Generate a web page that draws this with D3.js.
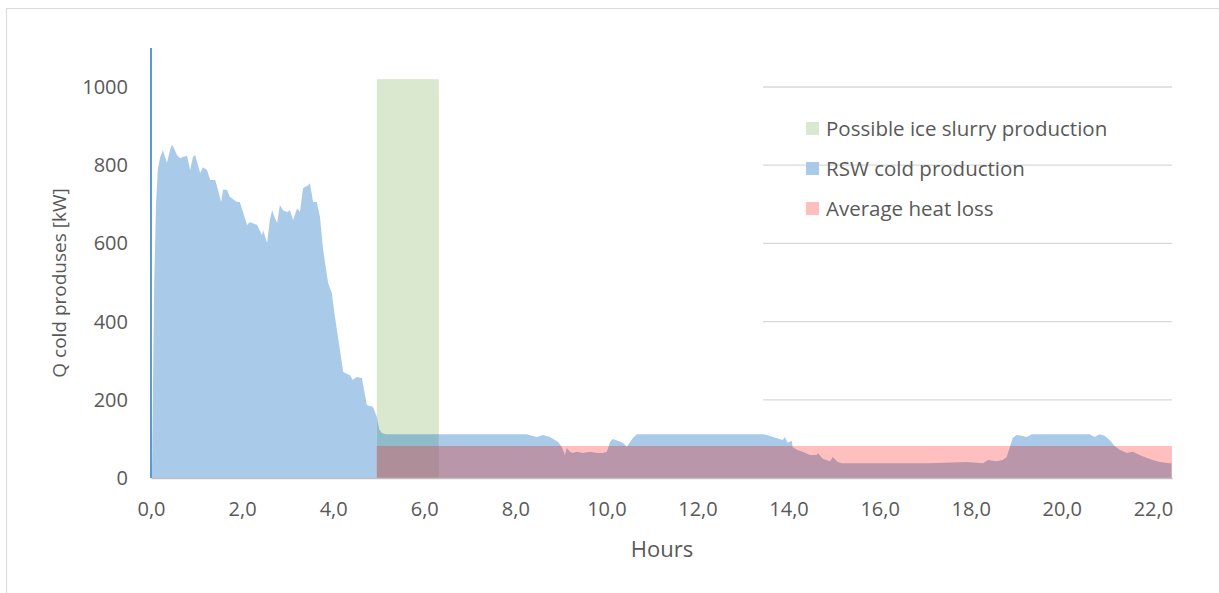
<!DOCTYPE html>
<html><head><meta charset="utf-8">
<script src="https://cdn.jsdelivr.net/npm/d3@7"></script>
<style>body{margin:0;background:#fff}svg{display:block}text{font-family:"Open Sans",sans-serif;fill:#595959}</style>
</head><body><svg id="c" width="1219" height="593"></svg>
<script>
// Data
const hours = [0.00,0.02,0.07,0.11,0.15,0.20,0.26,0.35,0.42,0.46,0.50,0.57,0.64,0.70,0.79,0.86,0.92,0.97,1.08,1.14,1.23,1.30,1.41,1.47,1.54,1.58,1.67,1.73,1.89,1.95,2.11,2.17,2.22,2.33,2.44,2.46,2.55,2.61,2.66,2.72,2.77,2.83,2.90,2.99,3.05,3.12,3.21,3.27,3.34,3.45,3.49,3.56,3.64,3.71,3.78,3.89,3.97,4.04,4.15,4.22,4.37,4.43,4.52,4.63,4.74,4.87,4.96,5.01,5.07,5.16,8.17,8.25,8.47,8.61,8.76,8.87,8.94,9.02,9.09,9.13,9.20,9.26,9.35,9.48,9.64,9.79,9.92,10.01,10.08,10.14,10.25,10.36,10.45,10.52,10.58,10.67,13.44,13.52,13.66,13.87,13.92,13.98,14.07,14.09,14.18,14.31,14.47,14.62,14.64,14.75,14.91,14.97,15.08,15.17,17.10,17.91,18.27,18.38,18.57,18.70,18.79,18.86,18.92,19.01,19.12,19.23,19.34,20.61,20.72,20.83,20.94,21.05,21.16,21.27,21.43,21.56,21.71,21.87,22.00,22.15,22.37,22.41];
const rswCold = [0,0,500,700,790,820,839,806,840,852,845,826,818,821,824,788,821,826,780,795,788,762,762,737,706,737,737,719,706,706,647,655,652,647,621,634,601,660,685,665,652,698,685,680,685,660,690,680,742,749,754,706,706,668,583,499,473,412,327,271,263,251,258,256,187,182,156,125,115,112,112,112,105,110,105,97,92,79,59,77,67,64,67,64,67,64,64,67,92,100,95,90,80,92,102,112,112,110,105,97,105,90,95,79,72,67,59,59,64,49,43,54,41,38,38,41,38,46,43,46,54,79,102,110,108,105,112,112,105,112,108,97,82,72,64,67,59,51,46,41,38,38];
const iceSlurry = {start:4.96, end:6.32, value:1020};
const heatLoss = {start:4.96, end:22.42, value:82};
const yTicks = [0,200,400,600,800,1000];
const xTicks = [0,2,4,6,8,10,12,14,16,18,20,22];
const gridStart = 13.44;
const axisLineTop = 1100;
const legendItems = [
  {label:"Possible ice slurry production", color:"#dbe8d0"},
  {label:"RSW cold production", color:"#a9cbe9"},
  {label:"Average heat loss", color:"#ffbfbf"}
];
const overlapColors = {greenBlue:"#8ebccb", redBlue:"#ba96ab", redGreenBlue:"#ad8e99"};

const svg = d3.select("#c");
svg.append("rect").attr("x",6.5).attr("y",8.5).attr("width",1230).attr("height",600)
  .attr("fill","none").attr("stroke","#d9d9d9");

const x = d3.scaleLinear().domain([0,22.42]).range([151,1172]);
const y = d3.scaleLinear().domain([0,1000]).range([478,87]);

// gridlines
svg.append("g").selectAll("line").data(yTicks.filter(d=>d>0)).join("line")
  .attr("x1",x(gridStart)).attr("x2",x(22.42)).attr("y1",d=>y(d)).attr("y2",d=>y(d))
  .attr("stroke","#d9d9d9").attr("stroke-width",1.3);

// blue area
const area = d3.area().x((d,i)=>x(hours[i])).y0(y(0)).y1(d=>y(d));
const areaD = area(rswCold);
svg.append("defs").append("clipPath").attr("id","blueClip").append("path").attr("d",areaD);
svg.append("path").attr("d",areaD).attr("fill","#a9cbe9");

function band(o, color, clip, x0, x1){
  const r = svg.append("rect").attr("x",x(x0)).attr("width",x(x1)-x(x0))
    .attr("y",y(o.value)).attr("height",y(0)-y(o.value)).attr("fill",color);
  if(clip) r.attr("clip-path","url(#blueClip)");
}
// green rect and its overlap with blue
band(iceSlurry, legendItems[0].color, false, iceSlurry.start, iceSlurry.end);
band(iceSlurry, overlapColors.greenBlue, true, iceSlurry.start, iceSlurry.end);
// red rect and overlaps
band(heatLoss, legendItems[2].color, false, heatLoss.start, heatLoss.end);
band(heatLoss, overlapColors.redBlue, true, heatLoss.start, heatLoss.end);
band(heatLoss, overlapColors.redGreenBlue, true, iceSlurry.start, iceSlurry.end);

// x axis
const xa = svg.append("g").attr("transform",`translate(0,${y(0)})`)
  .call(d3.axisBottom(x).tickValues(xTicks).tickSize(0).tickPadding(24)
    .tickFormat(d=>d3.format(".1f")(d).replace(".",",")));
xa.select(".domain").attr("stroke","#bfbfbf").attr("stroke-width",1.5);
xa.selectAll("text").attr("font-size",20).attr("fill","#595959").style("font-family","'Open Sans',sans-serif");

// y axis labels
const ya = svg.append("g").attr("transform",`translate(${x(0)},0)`)
  .call(d3.axisLeft(y).tickValues(yTicks).tickSize(0).tickPadding(23).tickFormat(d3.format("d")));
ya.select(".domain").remove();
ya.selectAll("text").attr("font-size",20).attr("fill","#595959").style("font-family","'Open Sans',sans-serif");
svg.append("line").attr("x1",x(0)).attr("x2",x(0)).attr("y1",y(0)).attr("y2",y(axisLineTop))
  .attr("stroke","#5b9bd5").attr("stroke-width",2);

// titles
svg.append("text").attr("x",662).attr("y",557).attr("text-anchor","middle").attr("font-size",22).text("Hours");
svg.append("text").attr("transform","translate(66,283) rotate(-90)").attr("text-anchor","middle").attr("font-size",19).text("Q cold produses [kW]");

// legend
const lg = svg.append("g").selectAll("g").data(legendItems).join("g")
  .attr("transform",(d,i)=>`translate(806,${129+i*40})`);
lg.append("rect").attr("x",0).attr("y",-7).attr("width",13).attr("height",13).attr("fill",d=>d.color);
lg.append("text").attr("x",20).attr("y",7).attr("font-size",20.5).text(d=>d.label);
</script></body></html>
